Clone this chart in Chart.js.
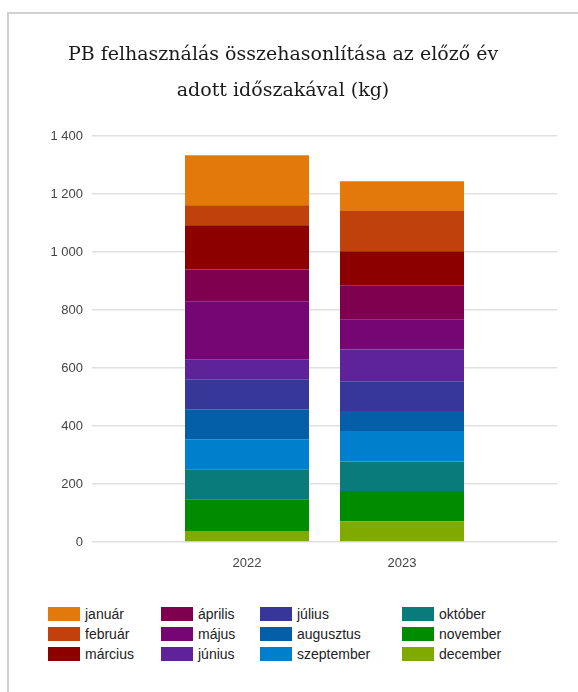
<!DOCTYPE html>
<html>
<head>
<meta charset="utf-8">
<script src="https://cdn.jsdelivr.net/npm/chart.js@4.4.0/dist/chart.umd.min.js"></script>
<style>
  body { margin: 0; background: #fff; width: 578px; height: 692px; overflow: hidden; position: relative; }
  .frame { position: absolute; left: 7px; top: 12px; right: -10px; bottom: -10px; border-left: 2px solid #d0d0d0; border-top: 2px solid #d0d0d0; }
  #chartWrap { position: absolute; left: 9px; top: 14px; width: 569px; height: 558px; }
  #legend { position: absolute; left: 48px; top: 604px; display: grid; grid-template-columns: 113px 99px 142px 140px; grid-auto-flow: column; grid-template-rows: repeat(3, 20px); font-family: "Liberation Sans", Arial, sans-serif; font-size: 14px; color: #222; }
  #legend .item { display: flex; align-items: center; height: 20px; }
  #legend .box { width: 32px; height: 14px; margin-right: 5px; box-sizing: border-box; }
</style>
</head>
<body>
<div class="frame"></div>
<div id="chartWrap"><canvas id="pbChart"></canvas></div>
<div id="legend"></div>
<script>
// Data
const years = ['2022', '2023'];
const months = ['január', 'február', 'március', 'április', 'május', 'június', 'július', 'augusztus', 'szeptember', 'október', 'november', 'december'];
const values2022 = [173, 69, 152, 110, 200, 69, 103, 104, 103, 104, 109, 38];
const values2023 = [103, 138, 118, 117, 104, 110, 102, 69, 105, 102, 105, 71];
const monthColors = ['#e4790b', '#c0410b', '#8c0000', '#7e004e', '#760674', '#5e2299', '#37379a', '#045ea8', '#0080cc', '#0a7b7b', '#008c00', '#80aa00'];
const yTicks = [0, 200, 400, 600, 800, 1000, 1200, 1400];

// Empty slots on both sides so the two bars sit at 1/3 and 2/3 of the plot
const labels = ['', ...years, ''];

// Stack: december at the bottom, január on top
const datasets = months.map((m, i) => ({
  label: m,
  data: [null, values2022[i], values2023[i], null],
  backgroundColor: monthColors[i],
  borderWidth: 0
})).reverse();

function formatThousands(v) {
  return String(v).replace(/\B(?=(\d{3})+(?!\d))/g, ' ');
}

const pbChart = new Chart(document.getElementById('pbChart'), {
  type: 'bar',
  data: { labels: labels, datasets: datasets },
  options: {
    responsive: true,
    maintainAspectRatio: false,
    animation: false,
    categoryPercentage: 0.8,
    barPercentage: 1,
    layout: { padding: { left: 0, right: 21, bottom: 0, top: 0 } },
    plugins: {
      legend: { display: false },
      tooltip: { enabled: false },
      title: {
        display: true,
        text: ['PB felhasználás összehasonlítása az előző év', 'adott időszakával (kg)'],
        color: '#1a1a1a',
        font: { family: '"DejaVu Serif", serif', size: 19, weight: 'normal', lineHeight: '36px' },
        padding: { top: 23, bottom: 27 }
      }
    },
    scales: {
      x: {
        stacked: true,
        offset: false,
        grid: { display: false, offset: false },
        border: { display: false },
        ticks: { color: '#444', font: { family: '"Liberation Sans", Arial, sans-serif', size: 13 }, padding: 6, autoSkip: false, maxRotation: 0 },
        afterFit: (scale) => { scale.height = 30; }
      },
      y: {
        stacked: true,
        min: 0,
        max: 1400,
        afterBuildTicks: (scale) => { scale.ticks = yTicks.map(v => ({ value: v })); },
        grid: { color: '#e0e0e0', lineWidth: 1.5, drawTicks: false },
        border: { display: false },
        ticks: {
          color: '#444',
          font: { family: '"Liberation Sans", Arial, sans-serif', size: 13 },
          padding: 9,
          callback: (v) => formatThousands(v)
        },
        afterFit: (scale) => { scale.width = 83; }
      }
    }
  }
});

// HTML legend, column by column like the original
const legendEl = document.getElementById('legend');
months.forEach((m, i) => {
  const item = document.createElement('div');
  item.className = 'item';
  item.innerHTML = `<span class="box" style="background:${monthColors[i]}"></span><span>${m}</span>`;
  legendEl.appendChild(item);
});
</script>
</body>
</html>
